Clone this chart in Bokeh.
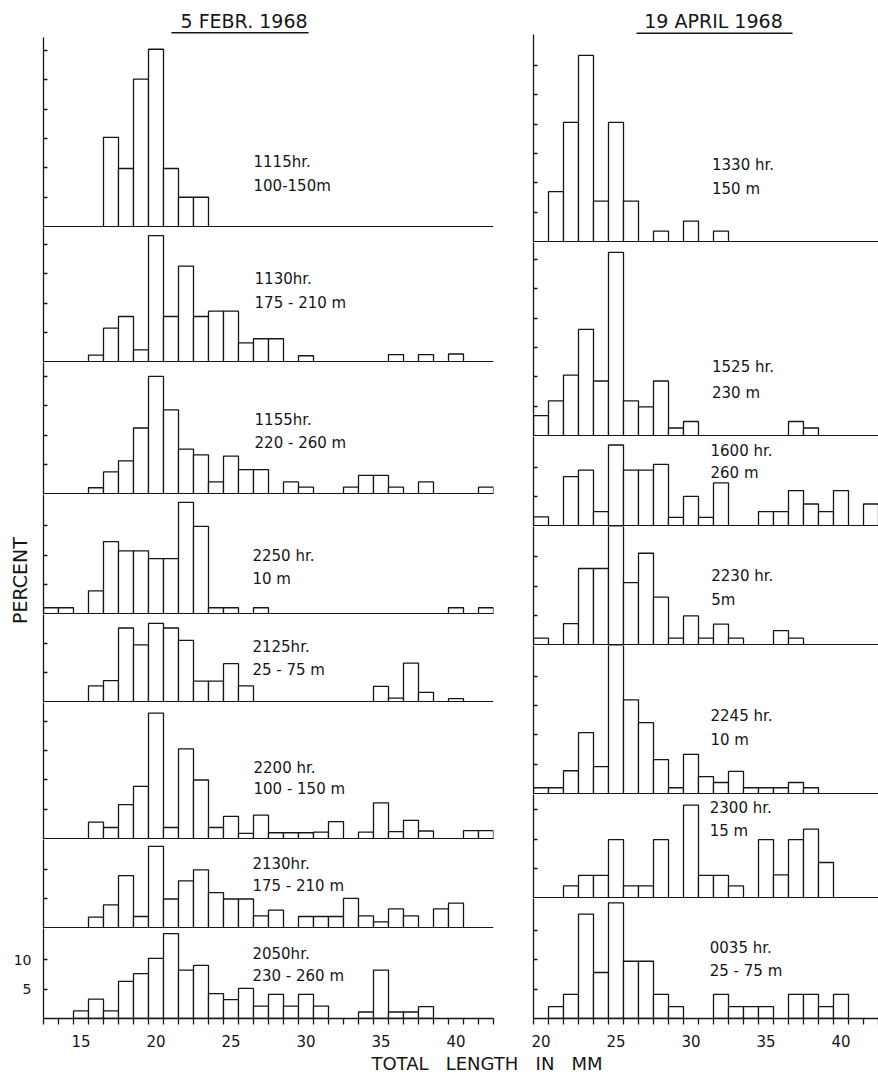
import math
import numpy as np
from bokeh.plotting import figure
from bokeh.layouts import column, row
from bokeh.models import Range1d, FixedTicker, Span
from bokeh.embed import file_html
from bokeh.resources import INLINE
from bokeh.core.properties import value

# ---------------- data (total length in mm, percent) ----------------
# 5 February 1968
feb_1115_len = [17, 18, 19, 20, 21, 22, 23]
feb_1115_pct = [15.2, 9.9, 25.1, 30.2, 9.9, 5.0, 5.0]

feb_1130_len = [16, 17, 18, 19, 20, 21, 22, 23, 24, 25, 26, 27, 28, 30, 36, 38, 40]
feb_1130_pct = [1.1, 5.7, 7.7, 2.0, 21.5, 7.7, 16.3, 7.7, 8.6, 8.6, 3.2, 3.9, 3.9, 1.0, 1.2, 1.2, 1.3]

feb_1155_len = [16, 17, 18, 19, 20, 21, 22, 23, 24, 25, 26, 27, 29, 30, 33, 34, 35, 36, 38, 42]
feb_1155_pct = [1.0, 3.7, 5.6, 11.2, 20.0, 14.3, 7.6, 6.6, 2.0, 6.4, 4.1, 4.1, 2.0, 1.1, 1.1, 3.1, 3.1, 1.1, 2.0, 1.1]

feb_2250_len = [13, 14, 16, 17, 18, 19, 20, 21, 22, 23, 24, 25, 27, 40, 42]
feb_2250_pct = [1.0, 1.0, 3.9, 12.3, 10.7, 10.7, 9.4, 9.4, 19.0, 14.9, 1.0, 1.0, 1.0, 1.0, 1.0]

feb_2125_len = [16, 17, 18, 19, 20, 21, 22, 23, 24, 25, 26, 35, 36, 37, 38, 40]
feb_2125_pct = [2.7, 3.6, 12.6, 9.7, 13.4, 12.6, 10.5, 3.5, 3.5, 6.5, 2.7, 2.6, 0.6, 6.6, 1.6, 0.5]

feb_2200_len = [16, 17, 18, 19, 20, 21, 22, 23, 24, 25, 26, 27, 28, 29, 30, 31, 32, 34, 35, 36, 37, 38, 41, 42]
feb_2200_pct = [2.8, 1.9, 5.8, 8.9, 21.4, 1.9, 15.3, 10.0, 1.9, 3.8, 0.9, 4.0, 1.0, 1.0, 1.0, 1.1, 2.9, 1.1,
                6.1, 1.2, 3.1, 1.3, 1.35, 1.35]

feb_2130_len = [16, 17, 18, 19, 20, 21, 22, 23, 24, 25, 26, 27, 28, 30, 31, 32, 33, 34, 35, 36, 37, 39, 40]
feb_2130_pct = [1.8, 3.9, 8.9, 1.9, 13.9, 4.9, 8.0, 9.9, 6.0, 4.9, 4.9, 2.0, 3.0, 1.9, 1.9, 1.9, 5.0, 2.0,
                1.0, 3.2, 2.0, 3.2, 4.2]

feb_2050_len = [15, 16, 17, 18, 19, 20, 21, 22, 23, 24, 25, 26, 27, 28, 29, 30, 31, 34, 35, 36, 37, 38]
feb_2050_pct = [1.3, 3.3, 1.3, 6.3, 7.6, 10.2, 14.4, 8.2, 9.0, 4.2, 3.2, 5.1, 2.1, 4.1, 2.1, 4.1, 2.1, 1.1,
                8.2, 1.1, 1.1, 2.0]

# 19 April 1968
apr_1330_len = [21, 22, 23, 24, 25, 26, 28, 30, 32]
apr_1330_pct = [8.5, 20.3, 31.7, 6.9, 20.3, 6.9, 1.8, 3.5, 1.8]

apr_1525_len = [20, 21, 22, 23, 24, 25, 26, 27, 28, 29, 30, 37, 38]
apr_1525_pct = [3.4, 5.9, 10.3, 18.1, 9.3, 31.2, 5.9, 4.9, 9.3, 1.3, 2.4, 2.4, 1.3]

apr_1600_len = [20, 22, 23, 24, 25, 26, 27, 28, 29, 30, 31, 32, 35, 36, 37, 38, 39, 40, 42]
apr_1600_pct = [1.5, 8.4, 9.5, 2.4, 13.8, 9.5, 9.5, 10.5, 1.4, 5.0, 1.4, 7.3, 2.4, 2.4, 6.0, 3.7, 2.4, 6.0, 3.7]

apr_2230_len = [20, 22, 23, 24, 25, 26, 27, 28, 29, 30, 31, 32, 33, 36, 37]
apr_2230_pct = [1.1, 3.6, 13.0, 13.0, 20.2, 10.6, 15.6, 8.1, 1.1, 4.9, 1.1, 3.5, 1.1, 2.4, 1.1]

apr_2245_len = [20, 21, 22, 23, 24, 25, 26, 27, 28, 29, 30, 31, 32, 33, 34, 35, 36, 37, 38]
apr_2245_pct = [1.0, 1.0, 3.9, 10.4, 4.6, 25.3, 16.0, 12.1, 5.8, 1.0, 6.7, 2.9, 1.9, 3.8, 1.0, 1.0, 1.0, 1.9, 1.0]

apr_2300_len = [22, 23, 24, 25, 26, 27, 28, 30, 31, 32, 33, 35, 36, 37, 38, 39]
apr_2300_pct = [2.0, 3.8, 3.8, 9.9, 2.0, 2.0, 9.9, 15.8, 3.8, 3.8, 2.0, 9.9, 3.9, 9.9, 11.7, 6.0]

apr_0035_len = [21, 22, 23, 24, 25, 26, 27, 28, 29, 32, 33, 34, 35, 37, 38, 39, 40]
apr_0035_pct = [2.0, 4.1, 17.7, 7.8, 19.6, 9.7, 9.7, 4.1, 2.0, 4.1, 2.0, 2.0, 2.0, 4.1, 4.1, 2.0, 4.1]

feb_labels = [("1115hr.", "100-150m"), ("1130hr.", "175 - 210 m"), ("1155hr.", "220 - 260 m"),
              ("2250 hr.", "10 m"), ("2125hr.", "25 - 75 m"), ("2200 hr.", "100 - 150 m"),
              ("2130hr.", "175 - 210 m"), ("2050hr.", "230 - 260 m")]
apr_labels = [("1330 hr.", "150 m"), ("1525 hr.", "230 m"), ("1600 hr.", "260 m"),
              ("2230 hr.", "5m"), ("2245 hr.", "10 m"), ("2300 hr.", "15 m"), ("0035 hr.", "25 - 75 m")]

x_tick_labels = [15, 20, 25, 30, 35, 40]
title_left = "5 FEBR. 1968"
title_right = "19 APRIL 1968"
y_title = "PERCENT"
GAP = "\u00a0\u00a0\u00a0"
x_title = GAP.join(["TOTAL", "LENGTH", "IN", "MM"])

feb_series = [(feb_1115_len, feb_1115_pct), (feb_1130_len, feb_1130_pct), (feb_1155_len, feb_1155_pct),
              (feb_2250_len, feb_2250_pct), (feb_2125_len, feb_2125_pct), (feb_2200_len, feb_2200_pct),
              (feb_2130_len, feb_2130_pct), (feb_2050_len, feb_2050_pct)]
apr_series = [(apr_1330_len, apr_1330_pct), (apr_1525_len, apr_1525_pct), (apr_1600_len, apr_1600_pct),
              (apr_2230_len, apr_2230_pct), (apr_2245_len, apr_2245_pct), (apr_2300_len, apr_2300_pct),
              (apr_0035_len, apr_0035_pct)]

# ---------------- layout / style ----------------
PX = 5.9            # pixels per percent
FONT = "DejaVu Sans"
INK = "#161616"
LW = 1.3

feb_frame_h = [190, 135, 132, 120, 88, 137, 89, 90]
apr_frame_h = [208, 194, 90, 119, 149, 104, 120]
# (x of label, px above baseline line1, line2)
feb_lab_pos = [(26.5, 64.7, 40.7), (26.57, 83, 59), (26.57, 74.3, 51.3), (26.43, 57.7, 35),
               (26.43, 55, 32), (26.5, 71, 50), (26.43, 64.3, 41.6), (26.43, 65, 42.3)]
apr_lab_pos = [(31.4, 76.7, 52.4), (31.4, 68.7, 43.3), (31.3, 75, 53), (31.35, 69, 45),
               (31.3, 78, 54), (31.25, 90.3, 66.7), (31.25, 71, 47.7)]

xr_L = Range1d(12.5, 42.5)
xr_R = Range1d(19.5, 42.5)


def make_panel(xr, frame_w, frame_h, lens, pcts, labels, lab_pos, lb, rb, bottom=False, ylab=False):
    ymax = frame_h / PX
    ystart = 0.0 if bottom else -0.15
    p = figure(frame_width=frame_w, frame_height=frame_h, x_range=xr, y_range=Range1d(ystart, ymax),
               output_backend="svg", toolbar_location=None, title=None,
               x_axis_location="below" if bottom else None,
               min_border_left=lb, min_border_right=rb, min_border_top=0,
               min_border_bottom=30 if bottom else 0,
               outline_line_color=None, background_fill_color="white", border_fill_color="white")
    p.grid.visible = False
    ya = p.yaxis[0]
    ticks = [t for t in range(5, int(ymax) + 1, 5) if t < ymax - 0.5]
    ya.ticker = FixedTicker(ticks=ticks)
    ya.major_tick_in = 4
    ya.major_tick_out = 0
    ya.minor_tick_line_color = None
    ya.axis_line_color = INK
    ya.axis_line_width = LW
    ya.major_tick_line_color = INK
    ya.major_tick_line_width = LW
    ya.major_label_text_font = FONT
    ya.major_label_text_font_size = "14px"
    ya.major_label_text_color = INK
    if ylab:
        ya.major_label_standoff = 12
    else:
        ya.major_label_overrides = {t: "" for t in ticks}
        ya.major_label_standoff = 0
    if bottom:
        xa = p.xaxis[0]
        lo, hi = xr.start, xr.end
        edges = list(np.arange(lo, hi + 0.01, 1.0))
        xa.ticker = FixedTicker(ticks=x_tick_labels, minor_ticks=edges)
        xa.major_tick_in = 0
        xa.major_tick_out = 0
        xa.minor_tick_in = 0
        xa.minor_tick_out = 6
        xa.minor_tick_line_color = INK
        xa.minor_tick_line_width = LW
        xa.axis_line_color = INK
        xa.axis_line_width = LW
        xa.major_label_text_font = FONT
        xa.major_label_text_font_size = "15px"
        xa.major_label_text_color = INK
        xa.major_label_standoff = 10
    else:
        p.add_layout(Span(location=0, dimension="width", line_color=INK, line_width=LW))
    la = np.asarray(lens, dtype=float)
    p.quad(left=la - 0.5, right=la + 0.5, bottom=0, top=pcts,
           fill_color="white", line_color=INK, line_width=LW)
    lx, y1, y2 = lab_pos
    p.text(x=[lx, lx], y=[y1 / PX, y2 / PX], text=list(labels), text_font=value(FONT),
           text_font_size="15px", text_color=INK, text_baseline="middle", text_align="left")
    return p


def blank(frame_w, frame_h, xr, yr, lb=0, rb=0):
    p = figure(frame_width=frame_w, frame_height=frame_h, x_range=xr, y_range=yr,
               output_backend="svg", toolbar_location=None, title=None,
               x_axis_location=None, y_axis_location=None,
               min_border_left=lb, min_border_right=rb, min_border_top=0, min_border_bottom=0,
               outline_line_color=None, background_fill_color="white", border_fill_color="white")
    p.grid.visible = False
    return p


OFF = 8   # page offset (content starts at the window corner)

# left column panels
P = []
for i, ((ln, pc), fh, lab, pos) in enumerate(zip(feb_series, feb_frame_h, feb_labels, feb_lab_pos)):
    lb = 11 if i in (3, 4) else 35 + OFF
    P.append(make_panel(xr_L, 450, fh, ln, pc, lab, pos, lb, 10,
                        bottom=(i == len(feb_series) - 1), ylab=(i == len(feb_series) - 1)))

Q = []
for i, ((ln, pc), fh, lab, pos) in enumerate(zip(apr_series, apr_frame_h, apr_labels, apr_lab_pos)):
    Q.append(make_panel(xr_R, 345, fh, ln, pc, lab, pos, 30, 0,
                        bottom=(i == len(apr_series) - 1), ylab=False))

# titles
hL = 29 + OFF
tL = blank(450, hL, xr_L, Range1d(hL, 0), lb=35 + OFF, rb=10)
tL.text(x=[25.87], y=[12 + OFF], text=[title_left], text_font=value(FONT), text_font_size="19px",
        text_color=INK, text_align="center", text_baseline="middle")
tL.segment(x0=[21.03], y0=[24.3 + OFF], x1=[30.17], y1=[24.3 + OFF], line_color=INK, line_width=1.5)

hR = 26 + OFF
tR = blank(345, hR, xr_R, Range1d(hR, 0), lb=30, rb=0)
tR.text(x=[31.5], y=[12.7 + OFF], text=[title_right], text_font=value(FONT), text_font_size="19px",
        text_color=INK, text_align="center", text_baseline="middle")
tR.segment(x0=[26.37], y0=[24.7 + OFF], x1=[36.77], y1=[24.7 + OFF], line_color=INK, line_width=1.5)

pct_h = feb_frame_h[3] + feb_frame_h[4]
pw = 24 + OFF
pct = blank(pw, pct_h, Range1d(0, pw), Range1d(pct_h, 0))
pct.text(x=[11 + OFF], y=[86], text=[y_title], angle=math.pi / 2, text_font=value(FONT),
         text_font_size="19px", text_color=INK, text_align="center", text_baseline="middle")

xt = blank(878, 26, Range1d(0, 878), Range1d(26, 0))
xt.text(x=[486.5], y=[14], text=[x_title], text_font=value(FONT), text_font_size="18px",
        text_color=INK, text_align="center", text_baseline="middle")

left_col = column(tL, P[0], P[1], P[2], row(pct, column(P[3], P[4])), P[5], P[6], P[7])
right_col = column(tR, *Q)
page = column(row(left_col, right_col), xt)

open("out.html", "w").write(file_html(page, INLINE))
